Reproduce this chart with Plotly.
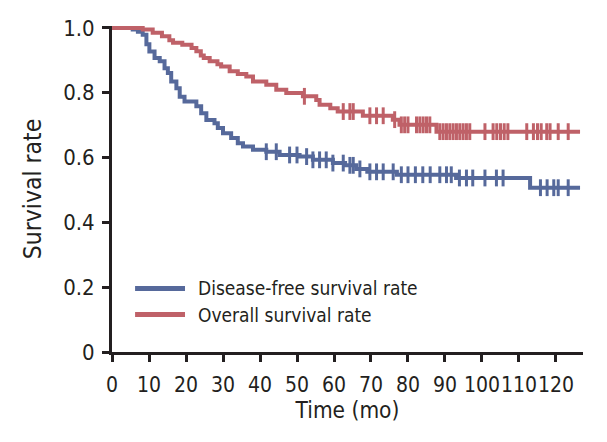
import numpy as np
import plotly.graph_objects as go

# Kaplan-Meier steps (time in months, survival rate)
dfs_time = [0, 5.6, 7, 8.3, 9.3, 10.1, 11.5, 12.9, 14.2, 15.1, 16, 17.4, 18.3, 19.6, 22.8,
            24.1, 25.5, 27.7, 28.6, 30, 32.2, 34, 35.4, 38.1, 41.7, 45.3, 50.7, 54.3, 59.7,
            63, 66, 69, 77, 93, 113, 126.5]
dfs_surv = [1.0, 0.995, 0.988, 0.979, 0.95, 0.927, 0.907, 0.897, 0.876, 0.861, 0.835, 0.814,
            0.788, 0.773, 0.758, 0.737, 0.716, 0.706, 0.691, 0.675, 0.66, 0.644, 0.634, 0.624,
            0.618, 0.608, 0.603, 0.593, 0.583, 0.576, 0.565, 0.556, 0.547, 0.537, 0.507, 0.507]
dfs_censored = [41.7, 44.4, 48, 50, 52.6, 54.3, 56.1, 57.9, 59.7, 62.5, 64.3, 65.2, 67.0, 69.7,
                71.5, 73.3, 76, 78.2, 80, 82, 84, 86, 88.6, 90.4, 91.7, 93.9, 95.8, 97.5, 100.8,
                103.9, 105.7, 115.8, 117.6, 119.4, 120.6, 123.3]

os_time = [0, 8.3, 11, 13.5, 15.5, 16.5, 19, 21.5, 22.8, 24, 24.8, 26.4, 28.5, 29.5, 31.8, 34,
           36.3, 38.1, 41.7, 44.4, 47.1, 51.6, 55.2, 56.1, 59, 61, 67.8, 75.9, 77.7, 87.7, 126.5]
os_surv = [1.0, 0.995, 0.985, 0.974, 0.962, 0.954, 0.948, 0.938, 0.928, 0.915, 0.907, 0.897,
           0.888, 0.881, 0.866, 0.858, 0.85, 0.835, 0.825, 0.809, 0.799, 0.789, 0.778, 0.763,
           0.752, 0.742, 0.729, 0.717, 0.701, 0.68, 0.68]
os_censored = [52, 62.5, 64.3, 65.2, 69.7, 71.5, 73.3, 76.4, 78.2, 79.1, 80.0, 82.3, 83.2, 84.1,
               85.0, 85.9, 88.6, 89.5, 90.4, 91.3, 92.2, 93.1, 94.0, 94.9, 95.8, 96.7, 100.8,
               103, 104, 105, 106, 107, 112.1, 113.9, 115, 116, 117.5, 118.4, 120.6, 123.3]

series_names = ["Disease-free survival rate", "Overall survival rate"]
x_ticks = list(range(0, 121, 10))
y_ticks = [0, 0.2, 0.4, 0.6, 0.8, 1.0]
y_labels = ["0", "0.2", "0.4", "0.6", "0.8", "1.0"]

BLUE = "#56699b"
RED = "#bf6168"
INK = "#231f20"
FONT = "Liberation Sans Narrow, DejaVu Sans Condensed, Arial Narrow, sans-serif"


def step_value(times, surv, t):
    i = np.searchsorted(times, t, side="right") - 1
    return np.asarray(surv)[i]


fig = go.Figure()

curves = [
    (dfs_time, dfs_surv, dfs_censored, BLUE),
    (os_time, os_surv, os_censored, RED),
]
for name, (t, s, cens, color) in zip(series_names, curves):
    fig.add_trace(go.Scatter(
        x=t, y=s, mode="lines", line_shape="hv", name=name, showlegend=False,
        line=dict(color=color, width=4),
    ))
    fig.add_trace(go.Scatter(
        x=cens, y=step_value(t, s, cens), mode="markers", showlegend=False,
        marker=dict(symbol="line-ns", size=12, line=dict(color=color, width=3)),
        cliponaxis=False,
    ))

# hand-drawn legend (longer swatches than plotly's own)
for i, (name, (_, _, _, color)) in enumerate(zip(series_names, curves)):
    yy = 0.195 - i * 0.08
    fig.add_shape(type="line", xref="paper", yref="paper", x0=0.049, x1=0.155, y0=yy, y1=yy,
                  line=dict(color=color, width=5))
    fig.add_annotation(x=0.178, y=yy, xref="paper", yref="paper", text=name, showarrow=False,
                       xanchor="left", yanchor="middle", font=dict(size=19, color=INK))

fig.update_layout(
    width=607, height=442,
    margin=dict(l=104, r=32, t=18, b=98),
    paper_bgcolor="white", plot_bgcolor="white",
    font=dict(family=FONT, color=INK, size=22),
    showlegend=False,
)
fig.update_xaxes(
    range=[0, 127.3], tickvals=x_ticks, tickangle=0, ticks="outside", ticklen=7, tickwidth=2.5,
    tickcolor=INK, showline=True, linecolor=INK, linewidth=3, showgrid=False,
    zeroline=False, ticklabelstandoff=5, automargin=False, tickfont=dict(size=21),
    title=dict(text="Time (mo)", font=dict(size=22.5), standoff=6),
)
fig.update_yaxes(
    range=[0, 1.006], tickvals=y_ticks, ticktext=y_labels, ticks="outside", ticklen=7,
    tickwidth=2.5, tickcolor=INK, showline=True, linecolor=INK, linewidth=3,
    showgrid=False, zeroline=False, ticklabelstandoff=3, automargin=False,
    title=dict(text="Survival rate", font=dict(size=24.5), standoff=15),
)

fig.write_html("out.html")
